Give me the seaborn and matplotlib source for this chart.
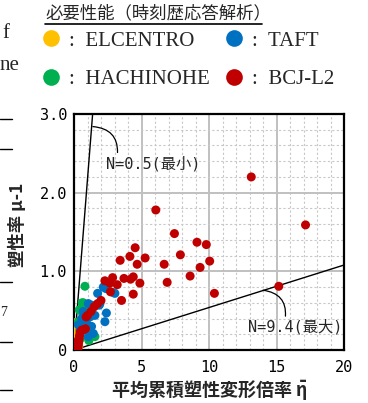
import numpy as np
import pandas as pd
import matplotlib
matplotlib.use("Agg")
import matplotlib.pyplot as plt
import seaborn as sns
from matplotlib.lines import Line2D
from matplotlib.ticker import MultipleLocator

# --- data ---
elcentro_x = [0.10, 0.15, 0.20, 0.22, 0.15, 0.25, 0.30, 0.12, 0.35]
elcentro_y = [0.00, 0.05, 0.10, 0.20, 0.35, 0.30, 0.15, 0.25, 0.05]

hachinohe_x = [0.81, 0.69, 0.57, 0.39, 1.55, 1.30, 1.18, 0.32, 0.45, 0.80, 0.90, 1.10, 0.50, 0.60]
hachinohe_y = [0.81, 0.60, 0.49, 0.51, 0.17, 0.19, 0.21, 0.36, 0.30, 0.55, 0.25, 0.12, 0.15, 0.60]

taft_x = [1.75, 2.17, 2.37, 2.90, 3.03, 2.40, 2.29, 1.87, 1.30, 1.06, 0.69, 1.18,
          0.57, 0.94, 1.30, 1.43, 1.06, 0.32, 0.44, 1.92, 1.55]
taft_y = [0.72, 0.80, 0.78, 0.73, 0.72, 0.47, 0.36, 0.57, 0.57, 0.59, 0.49, 0.42,
          0.40, 0.34, 0.30, 0.21, 0.17, 0.32, 0.25, 0.59, 0.44]

bcj_x = [6.06, 7.44, 9.11, 9.80, 4.53, 4.14, 3.42, 5.27, 4.68, 7.88, 6.68, 10.05,
         9.34, 8.60, 4.39, 2.86, 13.13, 17.15, 15.17, 10.40, 6.90, 3.70, 4.19, 4.88,
         3.20, 2.66, 4.39, 3.52, 2.29, 2.70,
         0.90, 1.00, 1.26, 1.50, 1.75, 2.00,
         0.30, 0.32, 0.35, 0.38, 0.40, 0.45, 0.55, 0.70, 0.85, 0.30, 0.25]
bcj_y = [1.78, 1.48, 1.37, 1.34, 1.30, 1.19, 1.14, 1.17, 1.09, 1.21, 1.09, 1.13,
         1.05, 0.94, 0.93, 0.92, 2.20, 1.59, 0.81, 0.72, 0.86, 0.91, 0.90, 0.85,
         0.83, 0.85, 0.71, 0.63, 0.88, 0.74,
         0.42, 0.44, 0.49, 0.55, 0.59, 0.63,
         0.02, 0.06, 0.10, 0.14, 0.18, 0.22, 0.25, 0.26, 0.27, 0.12, 0.05]

waves = ["ELCENTRO", "HACHINOHE", "TAFT", "BCJ-L2"]
colors = {"ELCENTRO": "#FFC000", "HACHINOHE": "#00B050", "TAFT": "#0070C0", "BCJ-L2": "#C00000"}

# N lines: end points of the two bounding lines
n_min_x = [0, 1.38]
n_min_y = [0, 3.0]
n_max_x = [0, 20]
n_max_y = [0, 1.08]

df = pd.concat([
    pd.DataFrame({"eta": elcentro_x, "mu": elcentro_y, "wave": "ELCENTRO"}),
    pd.DataFrame({"eta": hachinohe_x, "mu": hachinohe_y, "wave": "HACHINOHE"}),
    pd.DataFrame({"eta": taft_x, "mu": taft_y, "wave": "TAFT"}),
    pd.DataFrame({"eta": bcj_x, "mu": bcj_y, "wave": "BCJ-L2"}),
], ignore_index=True)

sns.set_theme(style="white")
plt.rcParams['font.family'] = ['Noto Sans CJK JP', 'DejaVu Sans']
plt.rcParams['mathtext.default'] = 'regular'
mono = ['DejaVu Sans Mono', 'Noto Sans CJK JP']
serif = ['Liberation Serif', 'Noto Sans CJK JP']

fig = plt.figure(figsize=(3.68, 4.03), dpi=100)
ax = fig.add_axes([74 / 368, 1 - 350 / 403, 270 / 368, 236 / 403])

sns.scatterplot(data=df, x="eta", y="mu", hue="wave", hue_order=waves, palette=colors,
                s=42, linewidth=0, legend=False, ax=ax, zorder=3)

ax.plot(n_min_x, n_min_y, color='black', lw=1.0, zorder=2)
ax.plot(n_max_x, n_max_y, color='black', lw=1.0, zorder=2)

ax.set_xlim(0, 20)
ax.set_ylim(0, 3.0)
ax.set_xticks([0, 5, 10, 15, 20])
ax.set_yticks([0, 1, 2, 3])
ax.set_yticklabels(['0', '1.0', '2.0', '3.0'])
ax.xaxis.set_minor_locator(MultipleLocator(1))
ax.yaxis.set_minor_locator(MultipleLocator(0.2))
ax.grid(which='major', color='#c0c0c0', lw=1.4, zorder=0)
ax.grid(which='minor', color='#c8c8c8', lw=0.8, ls=(0, (2, 2)), zorder=0)
ax.set_axisbelow(True)
ax.tick_params(which='both', length=0)
ax.tick_params(axis='y', pad=5)
ax.tick_params(axis='x', pad=7)
for lab in ax.get_xticklabels() + ax.get_yticklabels():
    lab.set_family(mono)
    lab.set_fontsize(11)
    lab.set_color('black')
for sp in ax.spines.values():
    sp.set_color('black')
    sp.set_linewidth(1.6)

ax.set_xlabel('平均累積塑性変形倍率 $\\bar{\\eta}$', fontsize=13, fontweight='bold', va='center')
ax.xaxis.set_label_coords(0.5, -0.17)
ax.set_ylabel('塑性率 μ-1', fontsize=12.5, fontweight='bold', va='center')
ax.yaxis.set_label_coords(-0.207, 0.53)

ax.annotate('N=0.5(最小)', xy=(1.4, 2.84), xytext=(2.37, 2.37), ha='left', va='center',
            family=mono, fontsize=11,
            arrowprops=dict(arrowstyle='-', lw=0.9, color='black', relpos=(0.12, 1.0),
                            connectionstyle='arc3,rad=0.5', shrinkA=0, shrinkB=0))
ax.annotate('N=9.4(最大)', xy=(14.0, 0.76), xytext=(19.9, 0.29), ha='right', va='center',
            family=mono, fontsize=11,
            arrowprops=dict(arrowstyle='-', lw=0.9, color='black', relpos=(0.39, 1.0),
                            connectionstyle='arc3,rad=0.5', shrinkA=0, shrinkB=0))

# legend on top
fig.text(45 / 368, 1 - 13 / 403, '必要性能（時刻歴応答解析）', fontsize=12.5, va='center', ha='left')
fig.add_artist(Line2D([45 / 368, 262 / 368], [1 - 24 / 403, 1 - 24 / 403], color='black', lw=1.2))

handles = [Line2D([], [], marker='o', ls='', markersize=12, markeredgewidth=0,
                  color=colors[w]) for w in waves]
labels = [':  ' + w for w in waves]
fig.legend(handles, labels, ncol=2, loc='upper left', bbox_to_anchor=(41 / 368, 1 - 31 / 403),
           frameon=False, prop={'family': serif, 'size': 15}, handlelength=1.0,
           handletextpad=0.35, columnspacing=0.65, labelspacing=0.9, borderpad=0,
           borderaxespad=0)

# fragments of neighbouring page text at the left edge
fig.text(2 / 368, 1 - 33 / 403, 'f', family=serif, fontsize=15, va='center')
fig.text(0, 1 - 66 / 403, 'ne', family=serif, fontsize=15, va='center')
for yy in [119, 149, 282, 342, 390]:
    fig.add_artist(Line2D([0, 12 / 368], [1 - yy / 403, 1 - yy / 403], color='black', lw=1.0))
fig.text(0, 1 - 313 / 403, '7', family=serif, fontsize=10, va='center')

fig.savefig('out.png', dpi=100)
plt.close()
